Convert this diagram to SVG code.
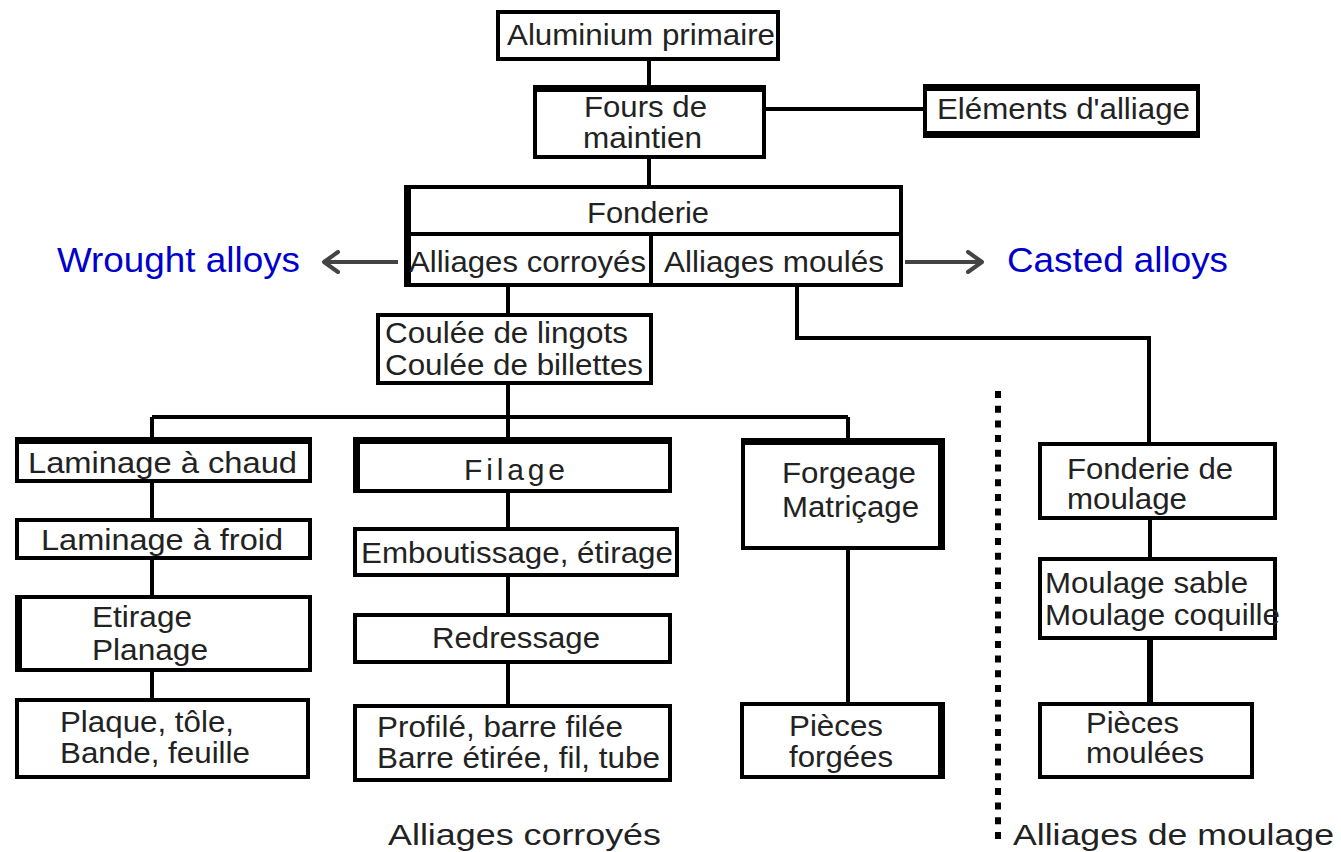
<svg xmlns="http://www.w3.org/2000/svg" width="1341" height="852" viewBox="0 0 1341 852">
<defs>
<style>
.box{fill:#fff;stroke:#000;stroke-width:4}
.thk{stroke:#000;stroke-width:7;fill:none}
.c{stroke:#000;stroke-width:4;fill:none}
.t{font-family:"Liberation Sans",Arial,Helvetica,sans-serif;font-size:30px;fill:#222}
.b{font-family:"Liberation Sans",Arial,Helvetica,sans-serif;font-size:35px;fill:#0000cc}
.arr{stroke:#444;stroke-width:4;fill:none}
</style>
<marker id="ah" viewBox="0 0 20 24" refX="17" refY="12" markerWidth="20" markerHeight="24" markerUnits="userSpaceOnUse" orient="auto">
<path d="M3 2 L17 12 L3 22" fill="none" stroke="#444" stroke-width="4" stroke-linecap="round" stroke-linejoin="round"/>
</marker>
</defs>
<rect width="1341" height="852" fill="#fff"/>

<g id="connectors">
<path class="c" d="M649 61V85M649 159V185M766 109H923"/>
<path class="c" d="M508 287V313M508 385V417M152 417H848M152 417V437M508 417V437M848 417V438"/>
<path class="c" d="M797 287V338H1149V442"/>
<path class="c" d="M152 483V518M152 560V595M152 672V698"/>
<path class="c" d="M508 493V527M508 577V613M508 664V704"/>
<path class="c" d="M848 550V702"/>
<path class="c" d="M1150 520V557"/>
<path class="c" d="M1150 640V702" style="stroke-width:6"/>
<path d="M998 391V845" stroke="#000" stroke-width="6" stroke-dasharray="7 7.7" fill="none"/>
<path class="arr" d="M398 262H324" marker-end="url(#ah)"/>
<path class="arr" d="M905 262H982" marker-end="url(#ah)"/>
</g>

<g id="aluminium-primaire">
<rect class="box" x="498" y="12" width="280" height="47"/>
<text class="t" x="507" y="45" textLength="268" lengthAdjust="spacingAndGlyphs">Aluminium primaire</text>
</g>

<g id="fours-de-maintien">
<rect class="box" x="535" y="87" width="229" height="70"/>
<path class="thk" d="M533 88.5H766"/>
<text class="t" x="584" y="117" textLength="123" lengthAdjust="spacingAndGlyphs">Fours de</text>
<text class="t" x="583" y="148" textLength="119" lengthAdjust="spacingAndGlyphs">maintien</text>
</g>

<g id="elements-alliage">
<rect class="box" x="925" y="86" width="273" height="50"/>
<path class="thk" d="M923 87.5H1200M923 134.5H1200"/>
<text class="t" x="937" y="119" textLength="253" lengthAdjust="spacingAndGlyphs">Eléments d'alliage</text>
</g>

<g id="fonderie">
<rect class="box" x="406" y="187" width="495" height="98"/>
<path class="thk" d="M407.5 185V287"/>
<path class="c" d="M404 234H903M651 234V287"/>
<text class="t" x="587" y="223" textLength="122" lengthAdjust="spacingAndGlyphs">Fonderie</text>
<text class="t" x="409" y="272" textLength="237" lengthAdjust="spacingAndGlyphs">Alliages corroyés</text>
<text class="t" x="664" y="272" textLength="220" lengthAdjust="spacingAndGlyphs">Alliages moulés</text>
</g>

<g id="wrought-alloys">
<text class="b" x="57" y="272" textLength="243" lengthAdjust="spacingAndGlyphs">Wrought alloys</text>
</g>

<g id="casted-alloys">
<text class="b" x="1007" y="272" textLength="221" lengthAdjust="spacingAndGlyphs">Casted alloys</text>
</g>

<g id="coulee">
<rect class="box" x="378" y="315" width="273" height="68"/>
<text class="t" x="385" y="343" textLength="243" lengthAdjust="spacingAndGlyphs">Coulée de lingots</text>
<text class="t" x="385" y="375" textLength="258" lengthAdjust="spacingAndGlyphs">Coulée de billettes</text>
</g>

<g id="laminage-chaud">
<rect class="box" x="17" y="439" width="293" height="42"/>
<path class="thk" d="M15 440.5H312"/>
<text class="t" x="28" y="473" textLength="269" lengthAdjust="spacingAndGlyphs">Laminage à chaud</text>
</g>

<g id="laminage-froid">
<rect class="box" x="17" y="520" width="293" height="38"/>
<text class="t" x="41" y="550" textLength="242" lengthAdjust="spacingAndGlyphs">Laminage à froid</text>
</g>

<g id="etirage-planage">
<rect class="box" x="17" y="597" width="293" height="73"/>
<path class="thk" d="M18.5 595V672"/>
<text class="t" x="92" y="627" textLength="100" lengthAdjust="spacingAndGlyphs">Etirage</text>
<text class="t" x="92" y="660" textLength="116" lengthAdjust="spacingAndGlyphs">Planage</text>
</g>

<g id="plaque-tole">
<rect class="box" x="17" y="700" width="291" height="77"/>
<text class="t" x="60" y="732" textLength="174" lengthAdjust="spacingAndGlyphs">Plaque, tôle,</text>
<text class="t" x="60" y="763" textLength="190" lengthAdjust="spacingAndGlyphs">Bande, feuille</text>
</g>

<g id="filage">
<rect class="box" x="355" y="439" width="315" height="52"/>
<path class="thk" d="M353 440.5H672M356.5 437V493"/>
<text class="t" x="464" y="480" textLength="101" lengthAdjust="spacing">Filage</text>
</g>

<g id="emboutissage">
<rect class="box" x="355" y="529" width="322" height="46"/>
<text class="t" x="361" y="563" textLength="312" lengthAdjust="spacingAndGlyphs">Emboutissage, étirage</text>
</g>

<g id="redressage">
<rect class="box" x="355" y="615" width="315" height="47"/>
<text class="t" x="432" y="648" textLength="168" lengthAdjust="spacingAndGlyphs">Redressage</text>
</g>

<g id="profile-barre">
<rect class="box" x="355" y="706" width="315" height="74"/>
<text class="t" x="377" y="737" textLength="246" lengthAdjust="spacingAndGlyphs">Profilé, barre filée</text>
<text class="t" x="377" y="768" textLength="283" lengthAdjust="spacingAndGlyphs">Barre étirée, fil, tube</text>
</g>

<g id="forgeage">
<rect class="box" x="743" y="440" width="200" height="108"/>
<path class="thk" d="M741 441.5H945M941.5 438V550"/>
<text class="t" x="782" y="483" textLength="134" lengthAdjust="spacingAndGlyphs">Forgeage</text>
<text class="t" x="782" y="517" textLength="137" lengthAdjust="spacingAndGlyphs">Matriçage</text>
</g>

<g id="pieces-forgees">
<rect class="box" x="742" y="704" width="201" height="73"/>
<path class="thk" d="M941.5 702V779"/>
<text class="t" x="789" y="736" textLength="94" lengthAdjust="spacingAndGlyphs">Pièces</text>
<text class="t" x="789" y="767" textLength="104" lengthAdjust="spacingAndGlyphs">forgées</text>
</g>

<g id="fonderie-moulage">
<rect class="box" x="1040" y="444" width="235" height="74"/>
<text class="t" x="1067" y="479" textLength="166" lengthAdjust="spacingAndGlyphs">Fonderie de</text>
<text class="t" x="1067" y="509" textLength="120" lengthAdjust="spacingAndGlyphs">moulage</text>
</g>

<g id="moulage-sable">
<rect class="box" x="1040" y="559" width="235" height="79"/>
<text class="t" x="1045" y="593" textLength="203" lengthAdjust="spacingAndGlyphs">Moulage sable</text>
<text class="t" x="1045" y="625" textLength="235" lengthAdjust="spacingAndGlyphs">Moulage coquille</text>
</g>

<g id="pieces-moulees">
<rect class="box" x="1040" y="704" width="212" height="73"/>
<text class="t" x="1086" y="733" textLength="93" lengthAdjust="spacingAndGlyphs">Pièces</text>
<text class="t" x="1086" y="763" textLength="118" lengthAdjust="spacingAndGlyphs">moulées</text>
</g>

<g id="label-corroyes">
<text class="t" x="388" y="845" textLength="273" lengthAdjust="spacingAndGlyphs">Alliages corroyés</text>
</g>

<g id="label-moulage">
<text class="t" x="1013" y="845" textLength="321" lengthAdjust="spacingAndGlyphs">Alliages de moulage</text>
</g>
</svg>
